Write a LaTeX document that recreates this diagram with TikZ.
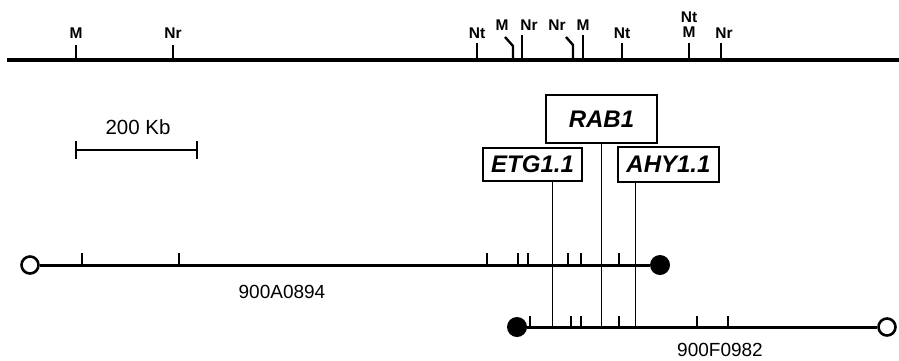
\documentclass[tikz,border=0pt]{standalone}
\usepackage{fontspec}
\setmainfont{Liberation Sans}
\usetikzlibrary{positioning,calc}

\begin{document}
\begin{tikzpicture}[
  x=1pt,y=-1pt,
  mapline/.style={line width=3.4pt},
  bacline/.style={line width=3pt},
  sitetick/.style={line width=2.4pt},
  sitelbl/.style={font=\bfseries\fontsize{15.5}{15.5}\selectfont,inner sep=0pt},
  genebox/.style={draw,line width=1.2pt,inner sep=0pt,
    font=\bfseries\itshape\fontsize{24}{24}\selectfont},
  genelink/.style={line width=0.9pt},
  openend/.style={circle,draw,line width=2.6pt,fill=white,minimum size=17pt,inner sep=0pt},
  closedend/.style={circle,fill,minimum size=20pt,inner sep=0pt},
  clonelbl/.style={font=\fontsize{19}{19}\selectfont,inner sep=0pt}
]
\useasboundingbox (0,0) rectangle (899,360);

% ── Mapa de restrição (linha superior) ──────────────────────────────────────
\draw[mapline] (7,60) -- (899,60);
\foreach \x/\top/\lx/\ly/\t [count=\i] in
  {76/45/76/33/M, 173/45/173/33/Nr, 477/43/477/33/Nt, 522/35/529/25/Nr,
   583/35/583/25/M, 622/43/622/33/Nt, 721/43/724/33/Nr}
{
  \draw[sitetick] (\x,60) -- (\x,\top);
  \node[sitelbl] (site\i) at (\lx,\ly) {\t};
}
% sítios com marca inclinada
\draw[sitetick,line join=round] (513,60) -- (513,46) -- (505,37);
\node[sitelbl] (siteMb) at (502,25) {M};
\draw[sitetick,line join=round] (573,60) -- (573,45) -- (566,37);
\node[sitelbl] (siteNrb) at (557,25) {Nr};
% sítio duplo Nt/M
\draw[sitetick] (689,60) -- (689,43);
\node[sitelbl] (siteNtM) at (689,17) {Nt};
\node[sitelbl] (siteMt) at (689,32) {M};

% ── Barra de escala ──────────────────────────────────────────────────────────
\node[clonelbl,font=\fontsize{20.5}{20.5}\selectfont] (scalelbl) at (138,127) {200 Kb};
\draw[line width=1.4pt] (76,150) -- (197,150);
\draw[line width=2pt] (76,141) -- (76,159) (197,141) -- (197,159);

% ── Genes ────────────────────────────────────────────────────────────────────
\node[genebox,minimum width=111pt,minimum height=48pt] (rab) at (601.5,119) {RAB1};
\node[genebox,minimum width=99pt,minimum height=33pt] (etg) at (532.5,164.5) {ETG1.1};
\node[genebox,minimum width=101pt,minimum height=35pt] (ahy) at (668.5,164.5) {AHY1.1};

% ── Clone 900A0894 ───────────────────────────────────────────────────────────
\node[openend] (aL) at (30,265) {};
\node[closedend] (aR) at (660,265) {};
\draw[bacline] (aL) -- (aR);
\foreach \x in {82,179,487,518,528,568,581,619}
  \draw[sitetick] (\x,265) -- (\x,253);
\node[clonelbl] (aName) at (282,292) {900A0894};

% ── Clone 900F0982 ───────────────────────────────────────────────────────────
\node[closedend] (fL) at (517,327) {};
\node[openend] (fR) at (887,327) {};
\draw[bacline] (fL) -- (fR);
\foreach \x in {530,571,581,619,697,728}
  \draw[sitetick] (\x,327) -- (\x,316);
\node[clonelbl] (fName) at (720,350) {900F0982};

% ── Ligações dos genes ao clone inferior ────────────────────────────────────
\coordinate (fBase) at (fL.center);
\draw[genelink] ([xshift=19.5pt]etg.south) -- ([xshift=19.5pt]etg.south |- fBase);
\draw[genelink] (rab.south) -- (rab.south |- fBase);
\draw[genelink] ([xshift=-33.5pt]ahy.south) -- ([xshift=-33.5pt]ahy.south |- fBase);
\end{tikzpicture}
\end{document}
